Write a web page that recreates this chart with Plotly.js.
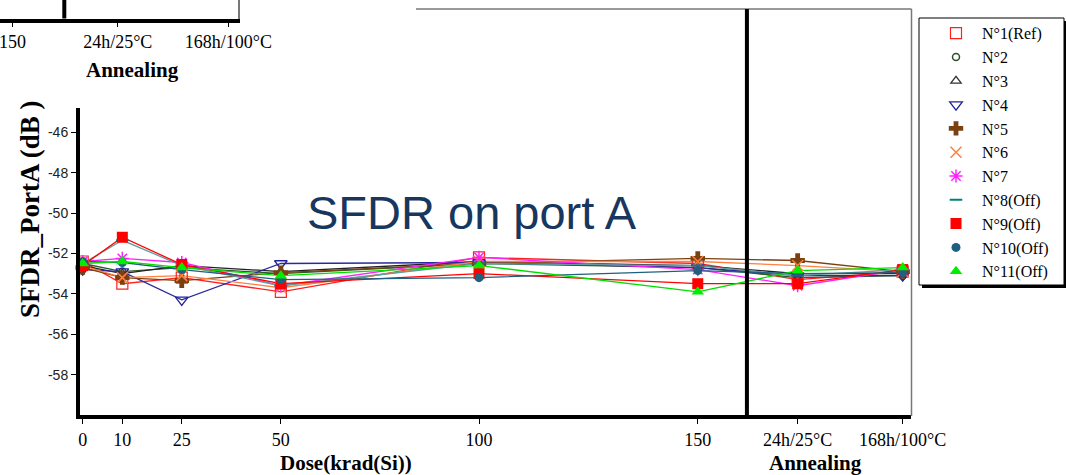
<!DOCTYPE html>
<html>
<head>
<meta charset="utf-8">
<script src="https://cdn.plot.ly/plotly-3.0.1.min.js"></script>
<style>
  html, body { margin: 0; padding: 0; background: #fff; }
  #chart { width: 1066px; height: 475px; }
</style>
</head>
<body>
<div id="chart"></div>
<script>
// Test steps: total dose (krad(Si)) followed by the two annealing steps
const stepLabels = ['0', '10', '25', '50', '100', '150', '24h/25°C', '168h/100°C'];
const yTickValues = [-46, -48, -50, -52, -54, -56, -58];

// SFDR measured on port A (dB), one array per device
const n1Ref = [-52.4, -53.5, -53.2, -53.9, -52.2, -52.5, -53.3, -52.9];
const n2    = [-52.5, -52.9, -52.7, -53.0, -52.5, -52.7, -53.2, -53.1];
const n3    = [-52.6, -53.0, -52.6, -52.9, -52.4, -52.6, -53.0, -53.0];
const n4    = [-52.8, -52.9, -54.3, -52.5, -52.45, -52.7, -53.1, -53.1];
const n5    = [-52.7, -53.2, -53.35, -52.95, -52.5, -52.25, -52.35, -52.9];
const n6    = [-52.6, -53.2, -53.1, -53.7, -52.4, -52.4, -52.6, -52.9];
const n7    = [-52.4, -52.25, -52.45, -53.6, -52.2, -52.8, -53.6, -52.8];
const n8Off = [-52.5, -51.35, -52.6, -53.6, -52.5, -52.6, -53.1, -52.8];
const n9Off = [-52.6, -51.2, -52.55, -53.5, -53.0, -53.5, -53.5, -52.8];
const n10Off = [-52.4, -52.45, -52.8, -53.3, -53.2, -52.85, -53.0, -52.95];
const n11Off = [-52.5, -52.4, -52.7, -53.1, -52.6, -53.9, -52.85, -52.7];

// Horizontal placement of each step on the x axis (layout only)
const stepPos = [0, 10, 25, 50, 100, 155.2, 180.4, 206.9];
const separatorPos = 167.6;

const W = 1066, H = 475;
const px = v => v / W;
const py = v => 1 - v / H;

const serif = 'Liberation Serif';
const sans = 'Liberation Sans';

const seriesDefs = [
  { name: 'N°1(Ref)',  y: n1Ref,  line: '#ff2020', marker: { symbol: 'square-open', size: 11, color: '#ff2020', line: { width: 1.2 } } },
  { name: 'N°2',       y: n2,     line: '#2e5a2e', marker: { symbol: 'circle-open', size: 7, color: '#2e4f2e', line: { width: 1.5 } } },
  { name: 'N°3',       y: n3,     line: '#222222', marker: { symbol: 'triangle-up-open', size: 9, color: '#333333', line: { width: 1.3 } } },
  { name: 'N°4',       y: n4,     line: '#2a2a9a', marker: { symbol: 'triangle-down-open', size: 11, color: '#2020a0', line: { width: 1.3 } } },
  { name: 'N°5',       y: n5,     line: '#7a4010', marker: { symbol: 'cross', size: 12, color: '#7a4010' } },
  { name: 'N°6',       y: n6,     line: '#ff8040', marker: { symbol: 'x-thin-open', size: 11, color: '#ff8040', line: { width: 1.5 } } },
  { name: 'N°7',       y: n7,     line: '#ff20ff', marker: { symbol: 'asterisk-open', size: 11, color: '#ff20ff', line: { width: 1.5 } } },
  { name: 'N°8(Off)',  y: n8Off,  line: '#5f9ea0', marker: { symbol: 'line-ew-open', size: 9, color: '#008080', line: { width: 2 } } },
  { name: 'N°9(Off)',  y: n9Off,  line: '#ff0000', marker: { symbol: 'square', size: 11, color: '#ff0000' } },
  { name: 'N°10(Off)', y: n10Off, line: '#1f5f80', marker: { symbol: 'circle', size: 9, color: '#1f5f80' } },
  { name: 'N°11(Off)', y: n11Off, line: '#00e000', marker: { symbol: 'triangle-up', size: 11, color: '#00ee00' } }
];

// Connecting lines first, then the markers (which also carry the legend)
const lineTraces = seriesDefs.map(s => ({
  type: 'scatter', mode: 'lines', name: s.name, showlegend: false,
  x: stepPos, y: s.y,
  line: { color: s.line, width: 1.3 },
  cliponaxis: false, xaxis: 'x', yaxis: 'y'
}));
const markerTraces = seriesDefs.map(s => ({
  type: 'scatter', mode: 'markers', name: s.name,
  x: stepPos, y: s.y,
  marker: s.marker,
  cliponaxis: false, xaxis: 'x', yaxis: 'y'
}));

// Empty trace so the partial axis at the top-left keeps its subplot
const frameTrace = { type: 'scatter', x: [], y: [], xaxis: 'x2', yaxis: 'y2', showlegend: false, hoverinfo: 'skip' };

const traces = lineTraces.concat(markerTraces, [frameTrace]);

const layout = {
  width: W,
  height: H,
  margin: { l: 0, r: 0, t: 0, b: 0 },
  paper_bgcolor: '#ffffff',
  plot_bgcolor: 'rgba(0,0,0,0)',
  font: { family: serif, color: '#000' },
  showlegend: true,
  xaxis: {
    domain: [px(80), px(911)],
    range: [-0.68, 209.0],
    anchor: 'y',
    tickmode: 'array',
    tickvals: stepPos,
    ticktext: stepLabels,
    tickfont: { family: serif, size: 18, color: '#000' },
    ticks: 'outside', ticklen: 5, tickcolor: '#000', tickwidth: 1,
    showline: true, linewidth: 4, linecolor: '#000',
    showgrid: false, zeroline: false, fixedrange: true
  },
  yaxis: {
    domain: [py(415), py(9)],
    range: [-60, -39.9],
    anchor: 'x',
    tickmode: 'array',
    tickvals: yTickValues,
    ticktext: yTickValues.map(String),
    tickfont: { family: sans, size: 14, color: '#222' },
    ticks: 'outside', ticklen: 8, tickcolor: '#000', tickwidth: 1,
    showline: false, showgrid: false, zeroline: false, fixedrange: true
  },
  xaxis2: {
    domain: [0, px(238)],
    range: [152.2, 209.2],
    anchor: 'y2',
    tickmode: 'array',
    tickvals: stepPos.slice(5),
    ticktext: stepLabels.slice(5),
    tickfont: { family: serif, size: 18, color: '#000' },
    ticklabeloverflow: 'allow',
    ticks: 'outside', ticklen: 4, tickcolor: '#000', tickwidth: 1,
    showline: true, linewidth: 4, linecolor: '#000',
    showgrid: false, zeroline: false, fixedrange: true
  },
  yaxis2: {
    domain: [py(18.5), 1],
    range: [0, 1],
    anchor: 'x2',
    side: 'right',
    showline: true, linewidth: 1.5, linecolor: '#777',
    showticklabels: false, ticks: '',
    showgrid: false, zeroline: false, fixedrange: true
  },
  legend: {
    x: px(930), y: py(16.3), xanchor: 'left', yanchor: 'top',
    bgcolor: 'rgba(0,0,0,0)', borderwidth: 0,
    font: { family: serif, size: 16, color: '#000' },
    itemwidth: 42,
    traceorder: 'normal',
    tracegroupgap: 0
  },
  shapes: [
    // left axis of the dose plot
    { type: 'line', xref: 'paper', yref: 'paper', x0: px(78), x1: px(78), y0: py(419), y1: py(108), line: { color: '#000', width: 4 } },
    // thin frame on top and right
    { type: 'line', xref: 'paper', yref: 'paper', x0: px(416), x1: px(911.5), y0: py(9), y1: py(9), line: { color: '#777', width: 1.5 } },
    { type: 'line', xref: 'paper', yref: 'paper', x0: px(911.5), x1: px(911.5), y0: py(9), y1: py(416), line: { color: '#777', width: 1.5 } },
    // dose / annealing separators
    { type: 'line', xref: 'x', yref: 'y domain', x0: separatorPos, x1: separatorPos, y0: 0, y1: 1, line: { color: '#000', width: 4 } },
    { type: 'line', xref: 'x2', yref: 'y2 domain', x0: separatorPos, x1: separatorPos, y0: 0, y1: 1, line: { color: '#000', width: 4 } },
    // legend frame with drop shadow
    { type: 'rect', xref: 'paper', yref: 'paper', x0: px(922), x1: px(1067), y0: py(288), y1: py(21), fillcolor: '#000', line: { width: 0 } },
    { type: 'rect', xref: 'paper', yref: 'paper', x0: px(919), x1: px(1064), y0: py(285), y1: py(18), fillcolor: '#fff', line: { color: '#000', width: 1 } }
  ],
  annotations: [
    { text: '<b>SFDR_PortA (dB )</b>', xref: 'paper', yref: 'paper', x: px(30), y: py(209), textangle: -90, showarrow: false,
      font: { family: serif, size: 27, color: '#000' }, xanchor: 'center', yanchor: 'middle' },
    { text: '<b>Dose(krad(Si))</b>', xref: 'paper', yref: 'paper', x: px(346), y: py(463), showarrow: false,
      font: { family: serif, size: 21, color: '#000' }, xanchor: 'center', yanchor: 'middle' },
    { text: '<b>Annealing</b>', xref: 'paper', yref: 'paper', x: px(815), y: py(463), showarrow: false,
      font: { family: serif, size: 21, color: '#000' }, xanchor: 'center', yanchor: 'middle' },
    { text: '<b>Annealing</b>', xref: 'paper', yref: 'paper', x: px(132), y: py(70), showarrow: false,
      font: { family: serif, size: 21, color: '#000' }, xanchor: 'center', yanchor: 'middle' },
    { text: 'SFDR on port A', xref: 'paper', yref: 'paper', x: px(471.5), y: py(212), showarrow: false,
      font: { family: sans, size: 47, color: '#17375e' }, xanchor: 'center', yanchor: 'middle' }
  ]
};

Plotly.newPlot('chart', traces, layout, { staticPlot: true, displayModeBar: false });
</script>
</body>
</html>
